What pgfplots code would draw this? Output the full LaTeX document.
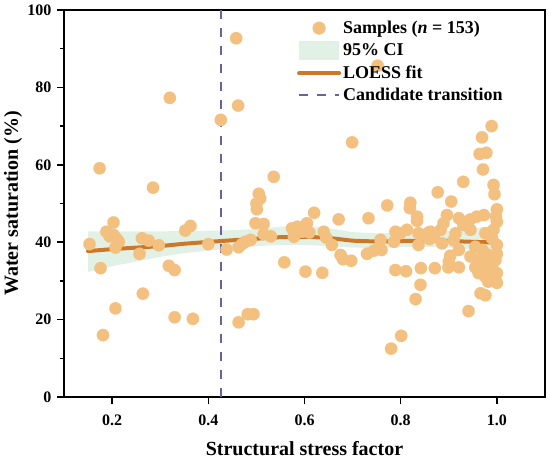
\documentclass[border=0pt]{standalone}
\usepackage{pgfplots}
\pgfplotsset{compat=1.18}
\usepackage{fontspec}
\setmainfont{Liberation Serif}
\definecolor{ptc}{RGB}{243,192,127}
\definecolor{cic}{RGB}{170,215,180}
\definecolor{loc}{RGB}{205,120,40}
\definecolor{dac}{RGB}{110,95,160}
\pgfplotstableread{
x y
0.153 39.5
0.174 59.1
0.176 33.3
0.181 16.0
0.188 42.7
0.195 41.5
0.203 45.1
0.203 41.9
0.207 22.9
0.207 38.6
0.210 40.8
0.214 40.1
0.257 37.0
0.262 41.0
0.264 26.7
0.276 40.4
0.285 54.1
0.297 39.2
0.318 33.9
0.320 77.3
0.330 32.8
0.330 20.6
0.352 43.0
0.363 44.2
0.368 20.2
0.400 39.5
0.426 71.6
0.438 38.1
0.458 92.7
0.462 75.3
0.463 38.7
0.463 19.3
0.470 39.5
0.477 40.1
0.482 21.4
0.488 40.6
0.494 21.4
0.498 44.9
0.500 50.0
0.501 48.5
0.505 52.5
0.508 51.3
0.515 44.7
0.515 42.1
0.530 41.5
0.536 56.9
0.558 34.8
0.574 43.6
0.578 41.4
0.585 44.0
0.595 42.7
0.602 32.4
0.605 44.9
0.610 42.5
0.620 47.6
0.637 32.1
0.640 42.7
0.645 41.2
0.657 39.3
0.671 45.9
0.675 36.7
0.680 35.6
0.697 35.2
0.699 65.8
0.730 37.0
0.733 46.2
0.744 37.8
0.752 85.6
0.754 38.4
0.758 40.6
0.760 38.0
0.772 49.5
0.780 12.5
0.786 40.1
0.789 42.7
0.789 32.8
0.799 42.3
0.801 15.8
0.811 32.5
0.813 43.2
0.820 50.2
0.819 48.8
0.831 25.3
0.834 46.6
0.834 45.5
0.837 42.3
0.837 39.3
0.841 29.0
0.842 33.3
0.851 41.9
0.858 42.5
0.860 40.8
0.862 42.7
0.869 41.4
0.871 33.3
0.877 52.9
0.883 43.2
0.886 39.7
0.889 44.9
0.896 47.0
0.899 33.5
0.900 35.0
0.903 36.5
0.905 50.5
0.910 40.5
0.914 42.3
0.921 46.2
0.921 38.0
0.921 33.5
0.930 55.6
0.930 44.5
0.941 22.2
0.945 45.9
0.945 43.2
0.945 36.3
0.955 38.8
0.955 33.5
0.958 46.6
0.960 35.5
0.962 32.0
0.964 62.8
0.966 34.1
0.966 26.8
0.969 67.1
0.970 38.0
0.971 58.8
0.973 47.0
0.975 34.0
0.976 35.4
0.976 31.1
0.976 26.3
0.976 42.3
0.978 63.1
0.980 36.8
0.982 29.8
0.985 36.5
0.987 35.0
0.987 32.4
0.989 70.0
0.990 33.8
0.990 41.0
0.993 54.8
0.993 43.2
0.995 52.4
0.995 31.0
0.997 35.4
0.998 46.6
1.000 48.5
1.000 45.3
1.000 39.3
1.000 37.0
1.000 32.0
1.000 29.5
}\samples
\pgfplotstableread{
x y
0.15 37.7
0.20 38.2
0.30 39.0
0.35 39.6
0.426 40.3
0.50 40.9
0.55 41.3
0.60 41.4
0.65 41.1
0.70 40.4
0.75 40.2
0.80 40.3
0.85 40.4
0.90 40.3
0.95 40.1
1.00 39.9
}\loess
\begin{document}
\begin{tikzpicture}
\begin{axis}[
  scale only axis, width=481bp, height=387bp,
  xmin=0.1, xmax=1.1, ymin=0, ymax=100,
  xtick={0.2,0.4,0.6,0.8,1.0},
  ytick={0,20,40,60,80,100},
  minor y tick num=1,
  xtick pos=bottom, ytick pos=left,
  tick align=outside,
  major tick length=7bp, minor tick length=4bp,
  axis line style={line width=1.5bp},
  every major tick/.append style={line width=1.5bp, black},
  every minor tick/.append style={line width=1.5bp, black},
  /pgf/number format/assume math mode=true,
  ticklabel style={font=\fontsize{16bp}{19bp}\selectfont\bfseries},
  xticklabel style={yshift=-7bp, /pgf/number format/fixed, /pgf/number format/fixed zerofill, /pgf/number format/precision=1},
  yticklabel style={xshift=-2bp},
  xlabel={Structural stress factor},
  ylabel={Water saturation (\%)},
  xlabel style={at={(axis description cs:0.5,-0.1499)}, anchor=base, font=\fontsize{20bp}{24bp}\selectfont\bfseries},
  ylabel style={at={(axis description cs:-0.106,0.5)}, anchor=center, font=\fontsize{20bp}{24bp}\selectfont\bfseries},
  legend style={at={(axis description cs:0.478,0.982)}, anchor=north west, draw=none, fill=none,
    font=\fontsize{18bp}{21bp}\selectfont\bfseries, row sep=4bp,
    nodes={inner sep=2bp}},
  legend cell align=left,
  clip=false,
]
\addplot[only marks, mark=*, mark size=6.2bp, color=ptc, mark options={draw=ptc, line width=0.1bp, fill=ptc},
  legend image code/.code={\fill[ptc] (20bp,0bp) circle (6.3bp);}] table[x=x,y=y] {\samples};
\addlegendentry{Samples (\textit{n} = 153)}
\addplot[fill=cic, fill opacity=0.35, draw=none,
  legend image code/.code={\fill[cic, fill opacity=0.35] (0bp,-9.5bp) rectangle (40bp,9.5bp);}]
  coordinates {(0.15,42.8) (0.2,42.8) (0.25,42.8) (0.3,42.8) (0.35,42.9) (0.426,43.0) (0.5,43.4) (0.55,44.0) (0.6,44.3) (0.65,43.6) (0.7,42.6) (0.75,42.3) (0.8,42.5) (0.85,42.6) (0.9,42.8) (0.95,43.5) (1.0,44.4)
   (1.0,37.3) (0.95,38.1) (0.9,38.6) (0.85,38.8) (0.8,38.7) (0.75,38.5) (0.7,38.6) (0.65,39.0) (0.6,39.3) (0.55,39.3) (0.5,39.0) (0.426,38.1) (0.35,37.2) (0.3,36.2) (0.25,35.0) (0.2,33.8) (0.15,32.3)} -- cycle;
\addlegendentry{95\% CI}
\addplot[color=loc, line width=4bp, line cap=round, smooth, tension=0.3,
  legend image code/.code={\draw[loc, line width=4bp] (0bp,0bp) -- (40bp,0bp);}] table[x=x,y=y] {\loess};
\addlegendentry{LOESS fit}
\addplot[color=dac, line width=2bp, dash pattern=on 9bp off 9bp,
  legend image code/.code={\draw[dac, line width=2bp, dash pattern=on 9bp off 9bp] (0bp,0bp) -- (40bp,0bp);}]
  coordinates {(0.4266,0) (0.4266,100)};
\addlegendentry{Candidate transition}
\pgfplotsinvokeforeach{0.2,0.4,0.6,0.8,1.0}{\draw[line width=1.5bp, black] (axis cs:#1,0) -- ++(0bp,-7bp);}
\pgfplotsinvokeforeach{0,20,40,60,80,100}{\draw[line width=1.5bp, black] (axis cs:0.1,#1) -- ++(-7bp,0bp);}
\end{axis}
\path[use as bounding box] (-64bp,-62bp) rectangle (486bp,397bp);
\end{tikzpicture}
\end{document}
